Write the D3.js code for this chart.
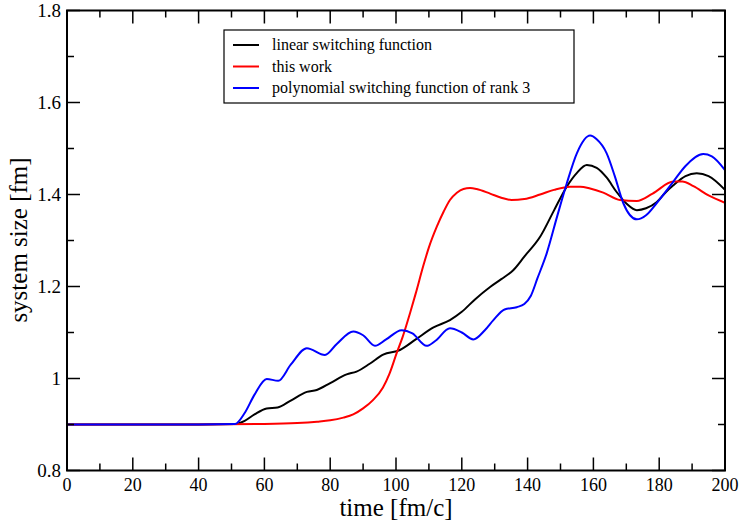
<!DOCTYPE html>
<html>
<head>
<meta charset="utf-8">
<script src="https://cdn.jsdelivr.net/npm/d3@7"></script>
<style>
  body { margin: 0; background: #fff; }
  text { font-family: "Liberation Serif", "Times New Roman", serif; }
</style>
</head>
<body>
<div id="chart"></div>
<script>
// series: [time, size]
let linearX = [0, 20, 40, 51, 54, 57, 60.7, 64, 68, 72.9, 75.9, 80, 85, 88, 92, 96.1, 101.2, 106, 111.4, 116.4, 120, 124, 128.6, 132, 135.7, 139, 143.8, 148, 151.9, 155, 158, 161, 164, 167, 170.1, 173.2, 176, 179.2, 182, 184.3, 188, 191.4, 195, 200];
let linearY = [0.9, 0.9, 0.9, 0.901, 0.908, 0.922, 0.935, 0.937, 0.952, 0.971, 0.975, 0.99, 1.009, 1.015, 1.032, 1.052, 1.062, 1.085, 1.111, 1.127, 1.145, 1.172, 1.199, 1.216, 1.236, 1.265, 1.308, 1.365, 1.417, 1.447, 1.464, 1.458, 1.437, 1.406, 1.38, 1.366, 1.37, 1.383, 1.405, 1.42, 1.44, 1.446, 1.44, 1.41];

let workX = [0, 20, 40, 60, 70, 76, 80, 84, 87, 90, 93, 96, 98, 100.2, 102, 104.3, 106, 108.3, 110, 112.4, 114.5, 116.4, 118.5, 120.5, 122.5, 124.5, 128.6, 132, 135.1, 139, 143.8, 148, 152.9, 156, 159, 163, 168.1, 173.2, 178, 184.3, 187, 190.4, 195, 200];
let workY = [0.9, 0.9, 0.9, 0.901, 0.903, 0.906, 0.909, 0.915, 0.922, 0.935, 0.953, 0.98, 1.01, 1.055, 1.09, 1.143, 1.185, 1.245, 1.285, 1.33, 1.363, 1.388, 1.404, 1.412, 1.414, 1.412, 1.402, 1.393, 1.388, 1.39, 1.4, 1.41, 1.417, 1.417, 1.413, 1.404, 1.388, 1.386, 1.402, 1.428, 1.428, 1.418, 1.398, 1.382];

let polyX = [0, 20, 40, 51, 54, 57, 60.7, 64.2, 68, 72.9, 78.4, 82, 87, 90, 93.6, 97, 101.7, 105, 109.3, 112, 116.4, 120, 123.5, 127, 129.6, 133, 136.7, 139, 141, 143, 145.8, 149, 151.9, 155, 159, 161, 164, 166.5, 169.1, 173.2, 176, 179.2, 184.3, 188, 193.4, 196, 200];
let polyY = [0.9, 0.9, 0.9, 0.901, 0.925, 0.965, 0.999, 0.995, 1.03, 1.066, 1.051, 1.075, 1.102, 1.094, 1.071, 1.085, 1.105, 1.098, 1.071, 1.082, 1.109, 1.1, 1.085, 1.105, 1.127, 1.15, 1.155, 1.162, 1.18, 1.218, 1.272, 1.353, 1.424, 1.49, 1.528, 1.52, 1.49, 1.44, 1.381, 1.346, 1.355, 1.381, 1.428, 1.462, 1.488, 1.483, 1.453];

let seriesNames = ["linear switching function", "this work", "polynomial switching function of rank 3"];
let seriesColors = ["#000000", "#ff0000", "#0000ff"];

let xTicks = [0, 20, 40, 60, 80, 100, 120, 140, 160, 180, 200];
let yTicks = [0.8, 1, 1.2, 1.4, 1.6, 1.8];
let yTickLabels = ["0.8", "1", "1.2", "1.4", "1.6", "1.8"];

let width = 739, height = 527;
let margin = {top: 10.5, right: 14, bottom: 56.5, left: 67};
let plotW = width - margin.left - margin.right,
    plotH = height - margin.top - margin.bottom;

let x = d3.scaleLinear().domain([0, 200]).range([0, plotW]);
let y = d3.scaleLinear().domain([0.8, 1.8]).range([plotH, 0]);

let svg = d3.select("#chart").append("svg")
    .attr("width", width)
    .attr("height", height);

let g = svg.append("g")
    .attr("transform", "translate(" + margin.left + "," + margin.top + ")");

// clip for curves
svg.append("defs").append("clipPath").attr("id", "clip")
    .append("rect").attr("width", plotW).attr("height", plotH);

let line = d3.line()
    .x(function(d) { return x(d[0]); })
    .y(function(d) { return y(d[1]); })
    .curve(d3.curveMonotoneX);

let series = [
    d3.zip(linearX, linearY),
    d3.zip(workX, workY),
    d3.zip(polyX, polyY)
];

let curves = g.append("g").attr("clip-path", "url(#clip)");
series.forEach(function(s, i) {
    curves.append("path")
        .datum(s)
        .attr("fill", "none")
        .attr("stroke", seriesColors[i])
        .attr("stroke-width", 2)
        .attr("d", line);
});

// ticks on all four sides, pointing inward
let xMinor = d3.range(10, 200, 20);
let yMinor = [0.9, 1.1, 1.3, 1.5, 1.7];
let major = 13, minor = 7;

let ticks = g.append("g").attr("stroke", "#000").attr("stroke-width", 1.5);
xTicks.forEach(function(t) {
    ticks.append("line").attr("x1", x(t)).attr("x2", x(t)).attr("y1", plotH).attr("y2", plotH - major);
    ticks.append("line").attr("x1", x(t)).attr("x2", x(t)).attr("y1", 0).attr("y2", major);
});
xMinor.forEach(function(t) {
    ticks.append("line").attr("x1", x(t)).attr("x2", x(t)).attr("y1", plotH).attr("y2", plotH - minor);
    ticks.append("line").attr("x1", x(t)).attr("x2", x(t)).attr("y1", 0).attr("y2", minor);
});
yTicks.forEach(function(t) {
    ticks.append("line").attr("y1", y(t)).attr("y2", y(t)).attr("x1", 0).attr("x2", major);
    ticks.append("line").attr("y1", y(t)).attr("y2", y(t)).attr("x1", plotW).attr("x2", plotW - major);
});
yMinor.forEach(function(t) {
    ticks.append("line").attr("y1", y(t)).attr("y2", y(t)).attr("x1", 0).attr("x2", minor);
    ticks.append("line").attr("y1", y(t)).attr("y2", y(t)).attr("x1", plotW).attr("x2", plotW - minor);
});

// frame
g.append("rect")
    .attr("width", plotW)
    .attr("height", plotH)
    .attr("fill", "none")
    .attr("stroke", "#000")
    .attr("stroke-width", 2);

// tick labels
g.selectAll(".xlab").data(xTicks).enter().append("text")
    .attr("class", "xlab")
    .attr("x", function(d) { return x(d); })
    .attr("y", plotH + 20)
    .attr("text-anchor", "middle")
    .attr("font-size", 18)
    .text(function(d) { return d; });

g.selectAll(".ylab").data(yTicks).enter().append("text")
    .attr("class", "ylab")
    .attr("x", -6)
    .attr("y", function(d) { return y(d) + 6; })
    .attr("text-anchor", "end")
    .attr("font-size", 19)
    .text(function(d, i) { return yTickLabels[i]; });

// axis titles
svg.append("text")
    .attr("x", margin.left + plotW / 2)
    .attr("y", 516)
    .attr("text-anchor", "middle")
    .attr("font-size", 25)
    .text("time [fm/c]");

svg.append("text")
    .attr("transform", "translate(27,240) rotate(-90)")
    .attr("text-anchor", "middle")
    .attr("font-size", 25)
    .text("system size [fm]");

// legend
let legend = svg.append("g").attr("transform", "translate(224,30)");
legend.append("rect")
    .attr("width", 350)
    .attr("height", 73)
    .attr("fill", "#fff")
    .attr("stroke", "#000")
    .attr("stroke-width", 1.2);

seriesNames.forEach(function(name, i) {
    let ly = 15 + i * 21.5;
    legend.append("line")
        .attr("x1", 9).attr("x2", 35)
        .attr("y1", ly).attr("y2", ly)
        .attr("stroke", seriesColors[i])
        .attr("stroke-width", 2);
    legend.append("text")
        .attr("x", 48)
        .attr("y", ly + 5)
        .attr("font-size", 16)
        .text(name);
});
</script>
</body>
</html>
